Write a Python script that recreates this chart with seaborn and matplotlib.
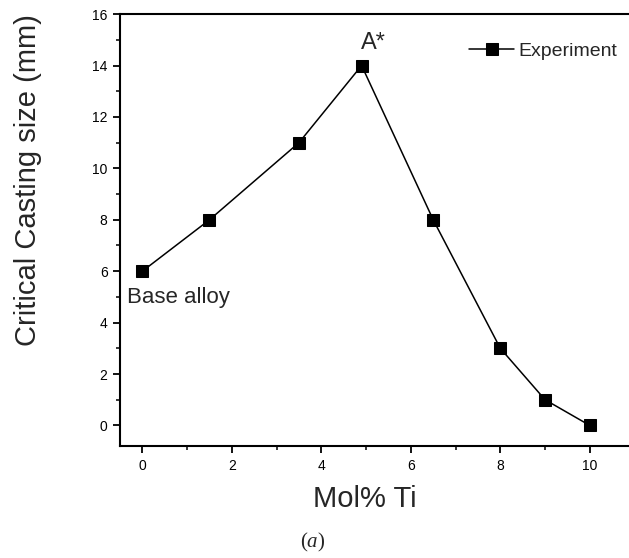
import matplotlib
matplotlib.use("Agg")
import matplotlib.pyplot as plt
import seaborn as sns
import pandas as pd
from matplotlib.ticker import MultipleLocator

# Critical casting size vs. Ti content
mol_ti = [0, 1.5, 3.5, 4.9, 6.5, 8, 9, 10]
casting_size = [6, 8, 11, 14, 8, 3, 1, 0]
series_name = "Experiment"

df = pd.DataFrame({"Mol% Ti": mol_ti, "size": casting_size, "series": series_name})

sns.set_style("ticks")
plt.rcParams["font.family"] = ["Liberation Sans", "DejaVu Sans"]
plt.rcParams["mathtext.fontset"] = "custom"
plt.rcParams["mathtext.rm"] = "Liberation Serif"
plt.rcParams["mathtext.it"] = "Liberation Serif:italic"

fig = plt.figure(figsize=(6.29, 5.58), dpi=100)
ax = fig.add_axes([0.1908, 0.2007, 0.818, 0.774])

sns.lineplot(data=df, x="Mol% Ti", y="size", hue="series", palette=["black"],
             marker="s", markersize=8.5, markeredgecolor="black", linewidth=1.1,
             ax=ax)

ax.set_xlim(-0.5, 11)
ax.set_ylim(-0.8, 16)
ax.xaxis.set_minor_locator(MultipleLocator(1))
ax.yaxis.set_minor_locator(MultipleLocator(1))
ax.set_xticks([0, 2, 4, 6, 8, 10])
ax.set_yticks([0, 2, 4, 6, 8, 10, 12, 14, 16])

for side in ["left", "bottom", "top"]:
    ax.spines[side].set_linewidth(1.5)
    ax.spines[side].set_color("black")
ax.spines["right"].set_visible(False)

ax.tick_params(which="major", direction="out", length=5, width=1.3,
               labelsize=10, pad=4, colors="black")
ax.tick_params(which="minor", direction="out", length=3, width=1.1, colors="black")
ax.tick_params(top=False, right=False, which="both")

ax.set_xlabel("Mol% Ti", fontsize=21)
ax.set_ylabel("Critical Casting size (mm)", fontsize=21)
ax.xaxis.set_label_coords(0.476, -0.091)
ax.yaxis.set_label_coords(-0.152, 0.615)

ax.text(5.16, 14.45, "A*", fontsize=17, ha="center", va="bottom")
ax.text(-0.35, 5.4, "Base alloy", fontsize=16, ha="left", va="top")

leg = ax.legend(loc="upper left", bbox_to_anchor=(0.645, 0.976), frameon=False,
                fontsize=14, handlelength=2.3, handletextpad=0.2)
for h in leg.legend_handles:
    h.set_markersize(8)

fig.text(0.497, 0.027, r"$(\mathit{a})$", fontsize=15, ha="center", va="center")

fig.savefig("out.png", dpi=100, facecolor="white")
